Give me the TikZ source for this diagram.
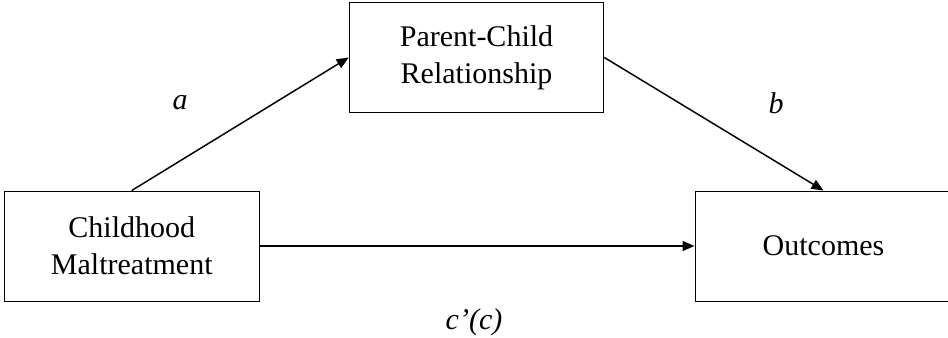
\documentclass[tikz,border=0pt]{standalone}
\usepackage{fontspec}
\setmainfont{Liberation Serif}
\usetikzlibrary{arrows.meta, positioning}

\tikzset{
  varbox/.style={draw=black, line width=0.75pt, align=center, inner sep=0.75pt,
    minimum width=191pt, minimum height=82.5pt, font=\fontsize{22.5}{27.75}\selectfont},
  patharrow/.style={line width=1.1pt, -{Triangle[length=9pt, width=7.5pt]}},
  pathlabel/.style={inner sep=0.75pt, font=\fontsize{22.5}{27.75}\selectfont\itshape}
}

\begin{document}
\begin{tikzpicture}[x=0.75pt,y=0.75pt,yscale=-1,xscale=1]
\useasboundingbox (0,0) rectangle (948,337);
\clip (0,0) rectangle (948,337);

% Boxes
\node [varbox] (maltreat) at (131.75,246) {Childhood\\Maltreatment};
\node [varbox] (relation) at (476.5,57.5) {Parent-Child\\Relationship};
\node [varbox, minimum width=192.75pt] (outcome) at (823.5,246) {Outcomes};

% Paths
\draw [patharrow] (maltreat.north) -- (relation.west);
\draw [patharrow] (relation.east) -- (outcome.north);
\draw [patharrow] (maltreat.east) -- (outcome.west);

% Text Node
\node [pathlabel] (pa) at (180,103) {a};
% Text Node
\node [pathlabel] (pb) at (776,103) {b};
% Text Node
\node [pathlabel] (pc) at (474,322) {c’(c)};

\end{tikzpicture}
\end{document}
